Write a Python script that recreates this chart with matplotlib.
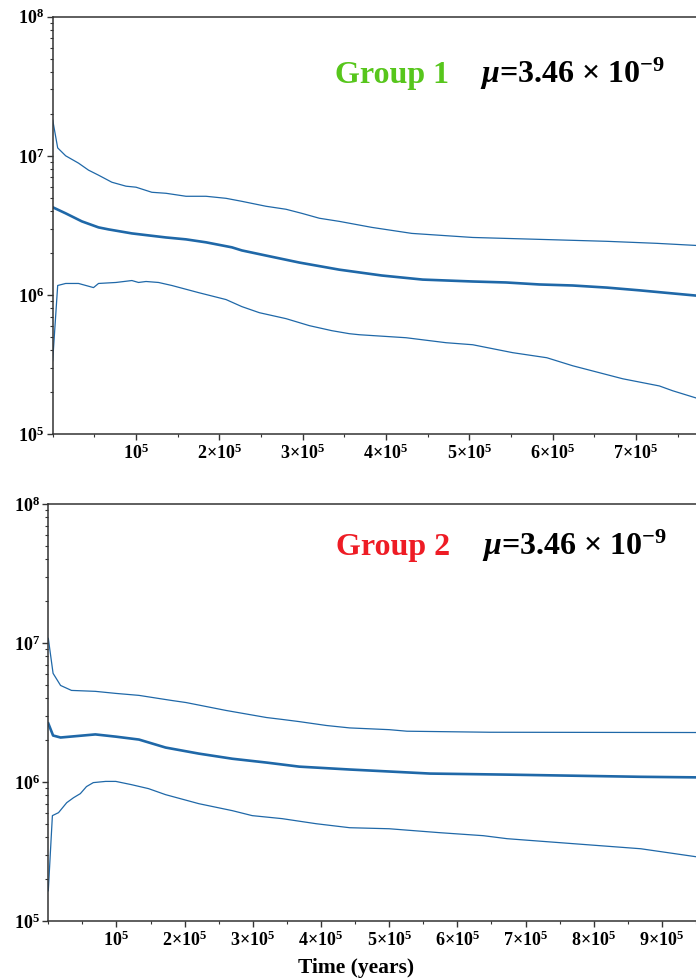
import numpy as np
import matplotlib
matplotlib.use("Agg")
import matplotlib.pyplot as plt
from matplotlib.ticker import FixedLocator, MultipleLocator, LogLocator, FuncFormatter, NullFormatter

plt.rcParams['font.family'] = ['Liberation Serif', 'DejaVu Serif']
plt.rcParams['font.weight'] = 'bold'
plt.rcParams['mathtext.fontset'] = 'custom'
plt.rcParams['mathtext.rm'] = 'Liberation Serif:bold'
plt.rcParams['mathtext.it'] = 'Liberation Serif:italic:bold'
plt.rcParams['mathtext.bf'] = 'Liberation Serif:bold'

# Group 1 (upper / median / lower)
g1_up_x = [0, 6e3, 1.56e4, 3.1e4, 4.3e4, 5.5e4, 7.1e4, 8.8e4, 1.0e5, 1.19e5, 1.36e5, 1.6e5, 1.84e5, 2.08e5,
           2.27e5, 2.56e5, 2.8e5, 2.99e5, 3.2e5, 3.44e5, 3.83e5, 4.31e5, 5.04e5, 5.84e5, 6.65e5, 7.25e5, 7.72e5]
g1_up_y = [1.81e7, 1.14e7, 1.00e7, 8.86e6, 7.89e6, 7.26e6, 6.46e6, 6.05e6, 5.95e6, 5.47e6, 5.38e6, 5.12e6, 5.12e6,
           4.95e6, 4.71e6, 4.34e6, 4.13e6, 3.86e6, 3.56e6, 3.38e6, 3.06e6, 2.77e6, 2.59e6, 2.51e6, 2.43e6, 2.35e6,
           2.27e6]
g1_mid_x = [0, 1.56e4, 3.5e4, 5.5e4, 6.7e4, 9.5e4, 1.15e5, 1.36e5, 1.6e5, 1.84e5, 2.15e5, 2.27e5, 2.56e5, 2.96e5,
            3.44e5, 3.95e5, 4.44e5, 5.04e5, 5.44e5, 5.84e5, 6.24e5, 6.65e5, 7.04e5, 7.72e5]
g1_mid_y = [4.27e6, 3.86e6, 3.38e6, 3.06e6, 2.96e6, 2.77e6, 2.68e6, 2.59e6, 2.51e6, 2.39e6, 2.20e6, 2.09e6, 1.92e6,
            1.71e6, 1.52e6, 1.38e6, 1.29e6, 1.25e6, 1.23e6, 1.19e6, 1.17e6, 1.13e6, 1.08e6, 0.99e6]
g1_lo_x = [0, 6e3, 1.56e4, 3.1e4, 4.9e4, 5.5e4, 7.6e4, 9.5e4, 1.03e5, 1.12e5, 1.27e5, 1.43e5, 1.75e5, 2.08e5,
           2.27e5, 2.48e5, 2.8e5, 3.08e5, 3.35e5, 3.56e5, 3.68e5, 4.24e5, 4.72e5, 5.04e5, 5.52e5, 5.93e5, 6.24e5,
           6.84e5, 7.28e5, 7.44e5, 7.72e5]
g1_lo_y = [3.37e5, 1.17e6, 1.21e6, 1.21e6, 1.13e6, 1.21e6, 1.23e6, 1.27e6, 1.23e6, 1.25e6, 1.23e6, 1.17e6, 1.04e6,
           9.27e5, 8.25e5, 7.46e5, 6.76e5, 6.02e5, 5.54e5, 5.27e5, 5.18e5, 4.93e5, 4.54e5, 4.39e5, 3.85e5, 3.54e5,
           3.10e5, 2.50e5, 2.22e5, 2.05e5, 1.82e5]

# Group 2
g2_up_x = [0, 7e3, 1.8e4, 3.4e4, 6.9e4, 9.9e4, 1.33e5, 1.62e5, 1.81e5, 2.02e5, 2.61e5, 3.2e5, 3.43e5, 3.68e5,
           4.08e5, 4.42e5, 5.0e5, 5.26e5, 6.48e5, 9.5e5]
g2_up_y = [1.08e7, 6.05e6, 4.95e6, 4.56e6, 4.49e6, 4.34e6, 4.20e6, 3.99e6, 3.86e6, 3.73e6, 3.27e6, 2.91e6, 2.82e6,
           2.72e6, 2.55e6, 2.45e6, 2.38e6, 2.32e6, 2.28e6, 2.27e6]
g2_mid_x = [0, 7e3, 1.8e4, 6.9e4, 9.9e4, 1.33e5, 1.72e5, 2.21e5, 2.7e5, 3.2e5, 3.68e5, 4.42e5, 5.0e5, 5.6e5,
            6.73e5, 7.7e5, 8.69e5, 9.5e5]
g2_mid_y = [2.64e6, 2.16e6, 2.09e6, 2.20e6, 2.12e6, 2.02e6, 1.77e6, 1.60e6, 1.47e6, 1.38e6, 1.29e6, 1.23e6, 1.19e6,
            1.15e6, 1.13e6, 1.11e6, 1.09e6, 1.08e6]
g2_lo_x = [0, 6e3, 1.5e4, 2.7e4, 3.7e4, 4.7e4, 5.6e4, 6.6e4, 8.4e4, 9.9e4, 1.22e5, 1.47e5, 1.72e5, 2.21e5, 2.7e5,
           2.99e5, 3.43e5, 3.93e5, 4.42e5, 5.0e5, 5.74e5, 6.38e5, 6.73e5, 7.7e5, 8.69e5, 9.5e5]
g2_lo_y = [1.65e5, 5.73e5, 6.02e5, 7.10e5, 7.71e5, 8.25e5, 9.27e5, 9.9e5, 1.01e6, 1.01e6, 9.57e5, 8.96e5, 8.11e5,
           6.98e5, 6.22e5, 5.73e5, 5.45e5, 5.01e5, 4.69e5, 4.61e5, 4.32e5, 4.11e5, 3.91e5, 3.60e5, 3.31e5, 2.90e5]

line_col = '#1f68a8'


def x_label(v, pos):
    k = int(round(v / 1e5))
    if k == 0:
        return ''
    if k == 1:
        return '10$^{5}$'
    return '%d×10$^{5}$' % k


def y_label(v, pos):
    return '10$^{%d}$' % int(round(np.log10(v)))


def style(ax, xmax):
    ax.set_yscale('log')
    ax.set_ylim(1e5, 1e8)
    ax.set_xlim(0, xmax)
    ax.spines['right'].set_visible(False)
    for s in ['left', 'top', 'bottom']:
        ax.spines[s].set_linewidth(1.1)
        ax.spines[s].set_color('#333333')
    ax.xaxis.set_major_locator(FixedLocator(np.arange(1, 10) * 1e5))
    ax.xaxis.set_minor_locator(MultipleLocator(5e4))
    ax.xaxis.set_major_formatter(FuncFormatter(x_label))
    ax.yaxis.set_major_locator(LogLocator(base=10))
    ax.yaxis.set_minor_locator(LogLocator(base=10, subs=np.arange(2, 10)))
    ax.yaxis.set_major_formatter(FuncFormatter(y_label))
    ax.yaxis.set_minor_formatter(NullFormatter())
    ax.tick_params(which='major', direction='out', length=4, width=1.0, color='#333333',
                   labelsize=13, pad=3)
    ax.tick_params(which='minor', direction='out', length=2.5, width=0.8, color='#333333')
    ax.tick_params(axis='y', which='major', pad=2)


fig = plt.figure(figsize=(6.96, 9.8), dpi=100)
ax1 = fig.add_axes([0.0757, 0.557, 0.9243, 0.426])
ax2 = fig.add_axes([0.0694, 0.0602, 0.9306, 0.4255])

ax1.plot(g1_up_x, g1_up_y, color=line_col, lw=0.9)
ax1.plot(g1_mid_x, g1_mid_y, color=line_col, lw=1.9)
ax1.plot(g1_lo_x, g1_lo_y, color=line_col, lw=0.9)
style(ax1, 7.72e5)

ax2.plot(g2_up_x, g2_up_y, color=line_col, lw=0.9)
ax2.plot(g2_mid_x, g2_mid_y, color=line_col, lw=1.9)
ax2.plot(g2_lo_x, g2_lo_y, color=line_col, lw=0.9)
style(ax2, 9.5e5)

mu_txt = r'$\mu$=3.46 × 10$^{-9}$'
fig.text(335 / 696, 1 - 83 / 980, 'Group 1', color='#57c61c', fontsize=23, fontweight='bold', va='baseline')
fig.text(480 / 696, 1 - 83 / 980, mu_txt, color='black', fontsize=23, fontweight='bold', va='baseline')
fig.text(336 / 696, 1 - 555 / 980, 'Group 2', color='#ee1c25', fontsize=23, fontweight='bold', va='baseline')
fig.text(482 / 696, 1 - 555 / 980, mu_txt, color='black', fontsize=23, fontweight='bold', va='baseline')

fig.text(356 / 696, 1 - 973 / 980, 'Time (years)', fontsize=15.5, fontweight='bold', ha='center', va='baseline')

fig.savefig('out.png', dpi=100)
